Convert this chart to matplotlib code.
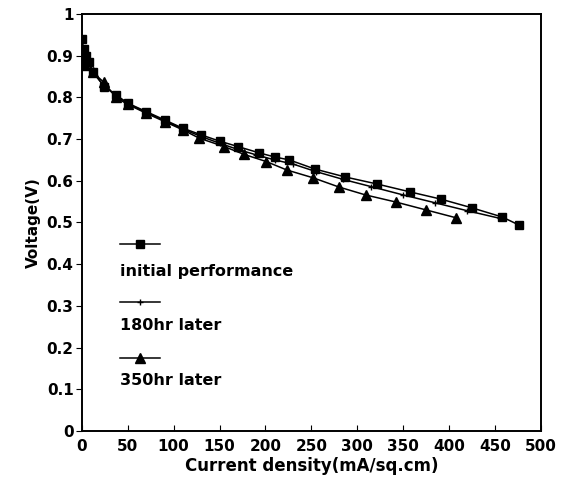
import matplotlib.pyplot as plt

# Initial performance (squares)
x_init = [0, 2, 5, 8, 12, 24, 37, 50, 70, 90, 110, 130, 150, 170, 193, 210, 226,
          254, 287, 322, 358, 391, 425, 458, 476]
v_init = [0.94, 0.915, 0.90, 0.885, 0.862, 0.826, 0.806, 0.786, 0.766, 0.746, 0.726,
          0.71, 0.695, 0.682, 0.667, 0.657, 0.650, 0.628, 0.609, 0.592, 0.573, 0.556,
          0.535, 0.513, 0.494]

# 180hr later (plus)
x_180 = [0, 5, 12, 24, 37, 50, 70, 90, 110, 130, 150, 170, 190, 210, 230, 255,
         285, 315, 350, 385, 420, 455]
v_180 = [0.92, 0.89, 0.86, 0.828, 0.805, 0.785, 0.764, 0.744, 0.724, 0.706, 0.69,
         0.675, 0.662, 0.65, 0.64, 0.622, 0.603, 0.586, 0.566, 0.547, 0.528, 0.51]

# 350hr later (triangles)
x_350 = [0, 3, 12, 24, 37, 50, 70, 90, 110, 128, 155, 177, 201, 223, 252, 280,
         309, 342, 375, 408]
v_350 = [0.89, 0.878, 0.86, 0.836, 0.80, 0.783, 0.762, 0.742, 0.722, 0.702, 0.682,
         0.663, 0.646, 0.626, 0.607, 0.585, 0.566, 0.549, 0.530, 0.511]

labels = ["initial performance", "180hr later", "350hr later"]

plt.rcParams['font.family'] = ['DejaVu Sans']
plt.rcParams['font.weight'] = 'bold'
plt.rcParams['axes.labelweight'] = 'bold'

fig = plt.figure(figsize=(5.61, 4.82), dpi=100)
ax = fig.add_axes([0.146, 0.106, 0.818, 0.865])

ax.plot(x_init, v_init, color='black', lw=1.1, marker='s', ms=6)
ax.plot(x_180, v_180, color='black', lw=1.1, marker='+', ms=5)
ax.plot(x_350, v_350, color='black', lw=1.1, marker='^', ms=7)

ax.set_xlim(0, 500)
ax.set_ylim(0, 1)
ax.set_xticks(range(0, 501, 50))
ax.set_yticks([i / 10 for i in range(11)])
ax.set_yticklabels(['0'] + ['%.1f' % (i / 10) for i in range(1, 10)] + ['1'])
ax.tick_params(axis='x', direction='in', length=4, labelsize=11, pad=6)
ax.tick_params(axis='y', direction='out', length=4, labelsize=11, pad=2)
for s in ax.spines.values():
    s.set_linewidth(1.4)

ax.set_xlabel("Current density(mA/sq.cm)", fontsize=12, labelpad=2)
ax.set_ylabel("Voltage(V)", fontsize=11, labelpad=4)

# hand-made legend: key line above each label
markers = [('s', 6), ('+', 5), ('^', 7)]
key_y = [0.448, 0.309, 0.175]
text_y = [0.383, 0.252, 0.12]
for (m, ms), ky, ty, lab in zip(markers, key_y, text_y, labels):
    ax.plot([0.083, 0.17], [ky, ky], color='black', lw=1.1, transform=ax.transAxes)
    ax.plot([0.127], [ky], color='black', marker=m, ms=ms, transform=ax.transAxes)
    ax.text(0.083, ty, lab, transform=ax.transAxes, fontsize=11.5, va='center')

fig.savefig("out.png", dpi=100)
